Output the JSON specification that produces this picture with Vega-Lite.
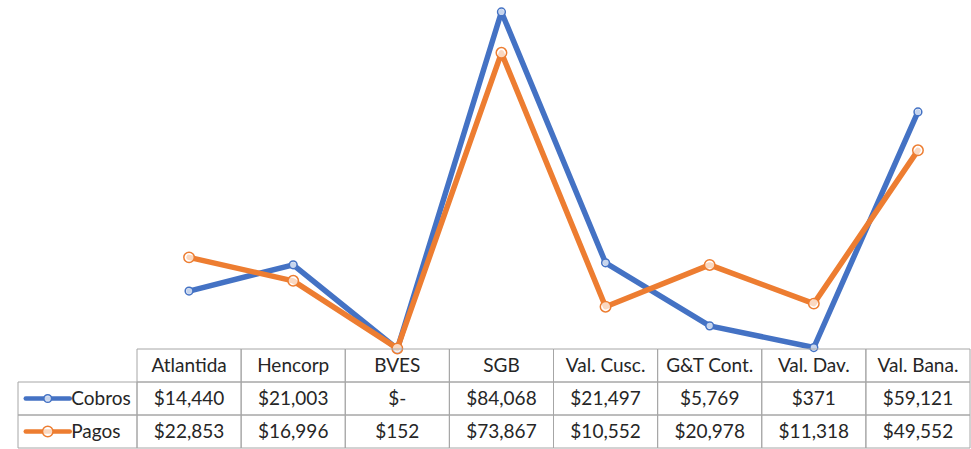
{
  "$schema": "https://vega.github.io/schema/vega-lite/v6.json",
  "padding": {"left": 16, "top": 5, "right": 0, "bottom": 0},
  "config": {
    "view": {"stroke": null},
    "text": {"font": "Lato", "fontSize": 19, "color": "#262626"}
  },
  "datasets": {
    "d": [
      {"cat": "Atlantida", "serie": "Cobros", "v": 14440},
      {"cat": "Hencorp", "serie": "Cobros", "v": 21003},
      {"cat": "BVES", "serie": "Cobros", "v": 0},
      {"cat": "SGB", "serie": "Cobros", "v": 84068},
      {"cat": "Val. Cusc.", "serie": "Cobros", "v": 21497},
      {"cat": "G&T Cont.", "serie": "Cobros", "v": 5769},
      {"cat": "Val. Dav.", "serie": "Cobros", "v": 371},
      {"cat": "Val. Bana.", "serie": "Cobros", "v": 59121},
      {"cat": "Atlantida", "serie": "Pagos", "v": 22853},
      {"cat": "Hencorp", "serie": "Pagos", "v": 16996},
      {"cat": "BVES", "serie": "Pagos", "v": 152},
      {"cat": "SGB", "serie": "Pagos", "v": 73867},
      {"cat": "Val. Cusc.", "serie": "Pagos", "v": 10552},
      {"cat": "G&T Cont.", "serie": "Pagos", "v": 20978},
      {"cat": "Val. Dav.", "serie": "Pagos", "v": 11318},
      {"cat": "Val. Bana.", "serie": "Pagos", "v": 49552}
    ]
  },
  "columns": 2,
  "spacing": 0,
  "bounds": "flush",
  "align": "each",
  "concat": [
    {
      "width": 119,
      "height": 344,
      "data": {"values": [{"a": 1}]},
      "mark": {"type": "text", "text": ""},
      "encoding": {}
    },
    {
      "width": 833,
      "height": 344,
      "data": {"name": "d"},
      "encoding": {
        "x": {"field": "cat", "type": "nominal", "scale": {"type": "point", "padding": 0.5, "domain": ["Atlantida", "Hencorp", "BVES", "SGB", "Val. Cusc.", "G&T Cont.", "Val. Dav.", "Val. Bana."]}, "axis": null},
        "y": {"field": "v", "type": "quantitative", "scale": {"domain": [0, 85800], "nice": false, "zero": true}, "axis": null},
        "stroke": {"field": "serie", "type": "nominal", "scale": {"domain": ["Cobros", "Pagos"], "range": ["#4472C4", "#ED7D31"]}, "legend": null}
      },
      "layer": [
        {"transform": [{"filter": "datum.serie === 'Cobros'"}], "mark": {"type": "line", "strokeWidth": 5.5, "strokeJoin": "round", "strokeCap": "round"}},
        {"transform": [{"filter": "datum.serie === 'Cobros'"}], "mark": {"type": "point", "shape": "circle", "filled": true, "fill": "white", "fillOpacity": 0.7, "strokeWidth": 1.5, "size": 60, "opacity": 1}},
        {"transform": [{"filter": "datum.serie === 'Pagos'"}], "mark": {"type": "line", "strokeWidth": 5.5, "strokeJoin": "round", "strokeCap": "round"}},
        {"transform": [{"filter": "datum.serie === 'Pagos'"}], "mark": {"type": "point", "shape": "circle", "filled": true, "fill": "white", "fillOpacity": 0.7, "strokeWidth": 1.5, "size": 110, "opacity": 1}}
      ]
    },
    {
      "width": 119,
      "height": 99,
      "data": {"name": "d"},
      "transform": [{"filter": "datum.cat === 'Atlantida'"}],
      "encoding": {
        "y": {"field": "serie", "type": "nominal", "scale": {"domain": ["h", "Cobros", "Pagos"], "paddingInner": 0, "paddingOuter": 0}, "axis": null}
      },
      "layer": [
        {"mark": {"type": "rect", "fill": "white", "fillOpacity": 0, "stroke": "#a6a6a6", "strokeWidth": 1}},
        {
          "mark": {"type": "point", "shape": "M-1,0L1,0", "size": 1936, "filled": false, "strokeWidth": 4.5, "strokeCap": "round", "opacity": 1},
          "encoding": {
            "x": {"datum": "key", "type": "nominal", "scale": {"domain": ["key", "label"], "paddingInner": 0, "paddingOuter": 0}, "axis": null},
            "stroke": {"field": "serie", "type": "nominal", "scale": {"domain": ["Cobros", "Pagos"], "range": ["#4472C4", "#ED7D31"]}, "legend": null}
          }
        },
        {
          "mark": {"type": "point", "shape": "circle", "filled": true, "fill": "white", "fillOpacity": 0.7, "strokeWidth": 1.5, "opacity": 1},
          "encoding": {
            "x": {"datum": "key", "type": "nominal"},
            "stroke": {"field": "serie", "type": "nominal", "scale": {"domain": ["Cobros", "Pagos"], "range": ["#4472C4", "#ED7D31"]}, "legend": null},
            "size": {"field": "serie", "type": "nominal", "scale": {"domain": ["Cobros", "Pagos"], "range": [60, 110]}, "legend": null}
          }
        },
        {
          "mark": {"type": "text", "align": "left", "dx": -36},
          "encoding": {
            "x": {"datum": "label", "type": "nominal"},
            "text": {"field": "serie", "type": "nominal"}
          }
        }
      ]
    },
    {
      "width": 833,
      "height": 99,
      "data": {"name": "d"},
      "encoding": {
        "x": {"field": "cat", "type": "nominal", "scale": {"domain": ["Atlantida", "Hencorp", "BVES", "SGB", "Val. Cusc.", "G&T Cont.", "Val. Dav.", "Val. Bana."], "paddingInner": 0, "paddingOuter": 0}, "axis": null}
      },
      "layer": [
        {
          "mark": {"type": "rect", "fill": "white", "fillOpacity": 0, "stroke": "#a6a6a6", "strokeWidth": 1},
          "encoding": {"y": {"field": "serie", "type": "nominal", "scale": {"domain": ["h", "Cobros", "Pagos"], "paddingInner": 0, "paddingOuter": 0}, "axis": null}}
        },
        {
          "transform": [{"filter": "datum.serie === 'Cobros'"}],
          "mark": {"type": "rect", "fill": "white", "fillOpacity": 0, "stroke": "#a6a6a6", "strokeWidth": 1},
          "encoding": {"y": {"datum": "h", "type": "nominal"}}
        },
        {
          "transform": [{"filter": "datum.serie === 'Cobros'"}],
          "mark": {"type": "text"},
          "encoding": {"y": {"datum": "h", "type": "nominal"}, "text": {"field": "cat", "type": "nominal"}}
        },
        {
          "mark": {"type": "text"},
          "encoding": {
            "y": {"field": "serie", "type": "nominal"},
            "text": {"condition": {"test": "datum.v === 0", "value": "$-"}, "field": "v", "type": "quantitative", "format": "$,.0f"}
          }
        }
      ]
    }
  ]
}
